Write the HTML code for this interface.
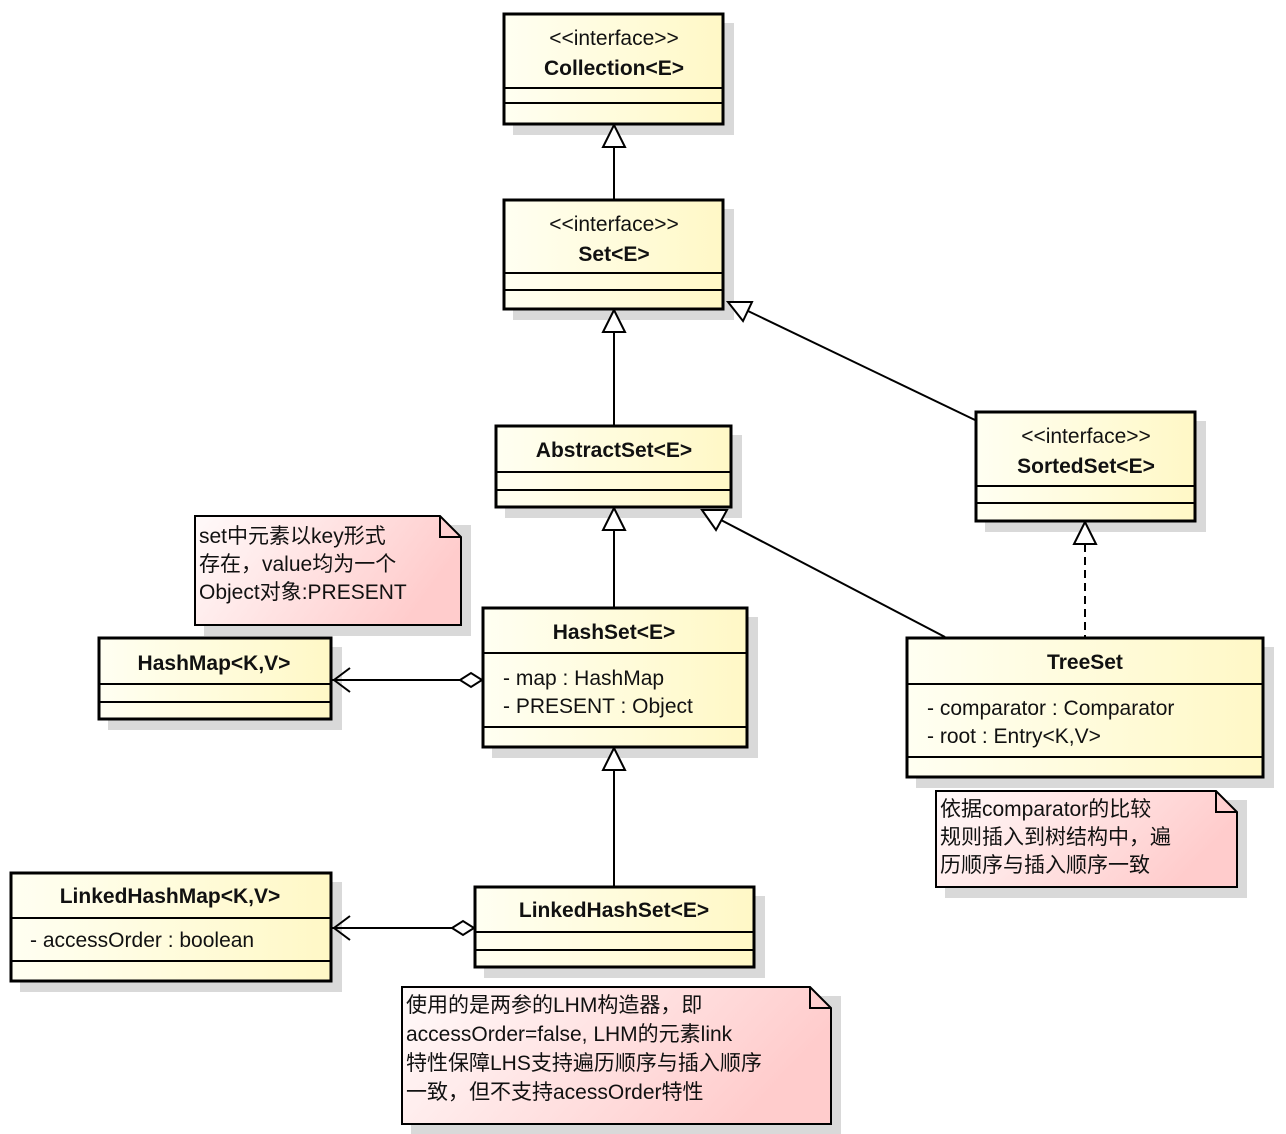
<!DOCTYPE html>
<html><head><meta charset="utf-8"><style>
html,body{margin:0;padding:0;background:#fff;}
svg{display:block;}
text{font-family:"Liberation Sans","Noto Sans CJK SC",sans-serif;font-size:21px;fill:#111;}
.b{font-weight:bold;}
</style></head><body>
<svg width="1286" height="1134" viewBox="0 0 1286 1134" xmlns="http://www.w3.org/2000/svg">
<defs>
<linearGradient id="y" x1="0" y1="0" x2="1" y2="0"><stop offset="0" stop-color="#fffff2"/><stop offset="1" stop-color="#fff8c6"/></linearGradient>
<linearGradient id="p" x1="0" y1="0" x2="1" y2="0.3"><stop offset="0" stop-color="#fffafa"/><stop offset="1" stop-color="#ffcccc"/></linearGradient>
</defs>
<!-- shadows -->
<g fill="#d9d9d9">
<rect x="513" y="23" width="221" height="112"/>
<rect x="513" y="209" width="221" height="111"/>
<rect x="505" y="435" width="237" height="83"/>
<rect x="985" y="421" width="221" height="111"/>
<rect x="492" y="617" width="266" height="141"/>
<rect x="916" y="647" width="358" height="141"/>
<rect x="108" y="647" width="234" height="83"/>
<rect x="20" y="882" width="322" height="110"/>
<rect x="484" y="896" width="281" height="82"/>
<rect x="204" y="525" width="267" height="111"/>
<rect x="945" y="800" width="302" height="98"/>
<rect x="411" y="996" width="430" height="139"/>
</g>
<!-- class boxes -->
<g stroke="#000" stroke-width="3" fill="url(#y)">
<rect x="504" y="14" width="219" height="110"/>
<rect x="504" y="200" width="219" height="109"/>
<rect x="496" y="426" width="235" height="81"/>
<rect x="976" y="412" width="219" height="109"/>
<rect x="483" y="608" width="264" height="139"/>
<rect x="907" y="638" width="356" height="139"/>
<rect x="99" y="638" width="232" height="81"/>
<rect x="11" y="873" width="320" height="108"/>
<rect x="475" y="887" width="279" height="80"/>
</g>
<g stroke="#000" stroke-width="2">
<line x1="504" y1="88" x2="723" y2="88"/><line x1="504" y1="103" x2="723" y2="103"/>
<line x1="504" y1="273" x2="723" y2="273"/><line x1="504" y1="290" x2="723" y2="290"/>
<line x1="496" y1="472" x2="731" y2="472"/><line x1="496" y1="490" x2="731" y2="490"/>
<line x1="976" y1="486" x2="1195" y2="486"/><line x1="976" y1="503" x2="1195" y2="503"/>
<line x1="483" y1="653" x2="747" y2="653"/><line x1="483" y1="727" x2="747" y2="727"/>
<line x1="907" y1="684" x2="1263" y2="684"/><line x1="907" y1="757" x2="1263" y2="757"/>
<line x1="99" y1="684" x2="331" y2="684"/><line x1="99" y1="702" x2="331" y2="702"/>
<line x1="11" y1="918" x2="331" y2="918"/><line x1="11" y1="961" x2="331" y2="961"/>
<line x1="475" y1="932" x2="754" y2="932"/><line x1="475" y1="950" x2="754" y2="950"/>
</g>
<!-- notes -->
<g stroke="#000" stroke-width="2" fill="url(#p)">
<path d="M195 516 H440 L461 537 V625 H195 Z"/>
<path d="M936 791 H1216 L1237 812 V887 H936 Z"/>
<path d="M402 987 H810 L831 1008 V1124 H402 Z"/>
</g>
<g stroke="#000" stroke-width="2" fill="none">
<path d="M440 516 V537 H461"/><path d="M1216 791 V812 H1237"/><path d="M810 987 V1008 H831"/>
</g>
<!-- text -->
<text x="614" y="45" text-anchor="middle">&lt;&lt;interface&gt;&gt;</text>
<text x="614" y="75" text-anchor="middle" class="b">Collection&lt;E&gt;</text>
<text x="614" y="231" text-anchor="middle">&lt;&lt;interface&gt;&gt;</text>
<text x="614" y="261" text-anchor="middle" class="b">Set&lt;E&gt;</text>
<text x="614" y="457" text-anchor="middle" class="b">AbstractSet&lt;E&gt;</text>
<text x="1086" y="443" text-anchor="middle">&lt;&lt;interface&gt;&gt;</text>
<text x="1086" y="473" text-anchor="middle" class="b">SortedSet&lt;E&gt;</text>
<text x="614" y="639" text-anchor="middle" class="b">HashSet&lt;E&gt;</text>
<text x="503" y="685">- map : HashMap</text>
<text x="503" y="713">- PRESENT : Object</text>
<text x="1085" y="669" text-anchor="middle" class="b">TreeSet</text>
<text x="927" y="715">- comparator : Comparator</text>
<text x="927" y="743">- root : Entry&lt;K,V&gt;</text>
<text x="214" y="670" text-anchor="middle" class="b">HashMap&lt;K,V&gt;</text>
<text x="170" y="903" text-anchor="middle" class="b">LinkedHashMap&lt;K,V&gt;</text>
<text x="30" y="947">- accessOrder : boolean</text>
<text x="614" y="917" text-anchor="middle" class="b">LinkedHashSet&lt;E&gt;</text>
<text x="199" y="543">set中元素以key形式</text>
<text x="199" y="571">存在，value均为一个</text>
<text x="199" y="599">Object对象:PRESENT</text>
<text x="940" y="816">依据comparator的比较</text>
<text x="940" y="844">规则插入到树结构中，遍</text>
<text x="940" y="872">历顺序与插入顺序一致</text>
<text x="406" y="1012">使用的是两参的LHM构造器，即</text>
<text x="406" y="1041">accessOrder=false, LHM的元素link</text>
<text x="406" y="1070">特性保障LHS支持遍历顺序与插入顺序</text>
<text x="406" y="1099">一致，但不支持acessOrder特性</text>
<!-- connectors -->
<g stroke="#000" stroke-width="2" fill="none">
<line x1="614" y1="147" x2="614" y2="199"/>
<line x1="614" y1="332" x2="614" y2="425"/>
<line x1="614" y1="530" x2="614" y2="607"/>
<line x1="614" y1="770" x2="614" y2="886"/>
<line x1="975" y1="420" x2="748" y2="311"/>
<line x1="945" y1="637" x2="721" y2="520"/>
<line x1="1085" y1="544" x2="1085" y2="637" stroke-dasharray="8,5"/>
<line x1="332" y1="680" x2="460" y2="680"/>
<path d="M350 668 L334 680 L350 692"/>
<line x1="332" y1="928" x2="452" y2="928"/>
<path d="M350 916 L334 928 L350 940"/>
</g>
<g stroke="#000" stroke-width="2" fill="#fff">
<polygon points="614,125 603,147 625,147"/>
<polygon points="614,310 603,332 625,332"/>
<polygon points="614,508 603,530 625,530"/>
<polygon points="614,748 603,770 625,770"/>
<polygon points="1085,522 1074,544 1096,544"/>
<polygon points="728,302 743,321 752,302"/>
<polygon points="702,510 716,530 727,510"/>
<polygon points="482,680 471,673 460,680 471,687"/>
<polygon points="474,928 463,921 452,928 463,935"/>
</g>
</svg>
</body></html>
